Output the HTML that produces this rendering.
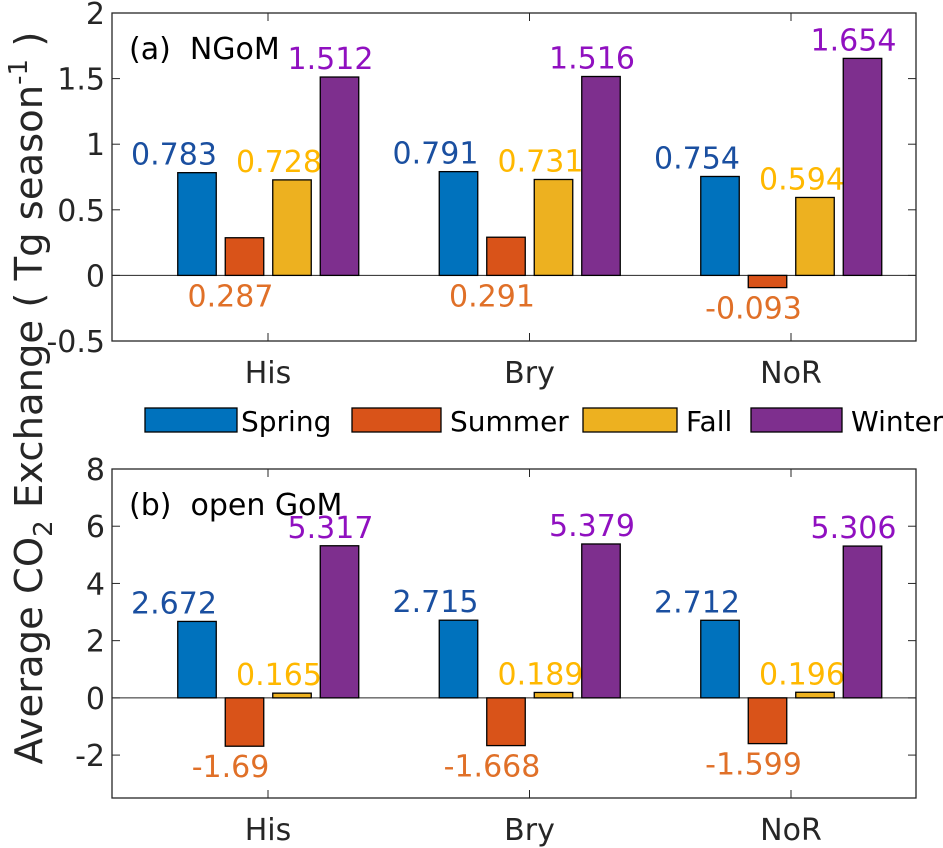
<!DOCTYPE html>
<html><head><meta charset="utf-8"><style>
html,body{margin:0;padding:0;background:#fff;}
svg{display:block;font-family:"DejaVu Sans","Liberation Sans",sans-serif;}
</style></head><body>
<svg id="chart" width="943" height="848" viewBox="0 0 943 848" xmlns="http://www.w3.org/2000/svg">
<text transform="translate(42,398) rotate(-90)" text-anchor="middle" font-size="38.5" fill="#262626">Average CO<tspan font-size="26" dy="10">2</tspan><tspan dy="-10"> Exchange ( Tg season</tspan><tspan font-size="26" dy="-15">-1</tspan><tspan dy="15"> )</tspan></text>
<g id="legend"></g>
</svg>
<script>
const categories = ["His", "Bry", "NoR"];
const seasons = ["Spring", "Summer", "Fall", "Winter"];
const ngomSpring = [0.783, 0.791, 0.754];
const ngomSummer = [0.287, 0.291, -0.093];
const ngomFall = [0.728, 0.731, 0.594];
const ngomWinter = [1.512, 1.516, 1.654];
const openSpring = [2.672, 2.715, 2.712];
const openSummer = [-1.69, -1.668, -1.599];
const openFall = [0.165, 0.189, 0.196];
const openWinter = [5.317, 5.379, 5.306];
const ngomTicks = [-0.5, 0, 0.5, 1, 1.5, 2];
const openTicks = [-2, 0, 2, 4, 6, 8];

const NS = "http://www.w3.org/2000/svg";
const svg = document.getElementById("chart");
const fills = ["#0072BD", "#D95319", "#EDB120", "#7E2F8E"];
const labelColors = ["#1a4fa0", "#e07028", "#ffb800", "#9010c0"];
const labelShift = [-23, -14, -13, -9];
const barOffsets = [-71, -23.5, 24, 71.5];
const barW = 38.5;
const FS = 30;
function xGroup(i){ return 268 + i * 261.5; }
function fmt(v){ return String(v); }
function mk(tag, attrs, parent){
  const e = document.createElementNS(NS, tag);
  for (const k in attrs) e.setAttribute(k, attrs[k]);
  (parent || svg).appendChild(e);
  return e;
}
function panel(cfg){
  const y = v => cfg.y0 + (v - cfg.ymin) / (cfg.ymax - cfg.ymin) * (cfg.y1 - cfg.y0);
  const L = 112, R = 916;
  const g = mk("g", {});
  
  
  const zl = mk("line", {x1:L, x2:R, y1:y(0), y2:y(0), stroke:"#262626", "stroke-width":1}, g);
  
  
  cfg.series.forEach((vals, s) => {
    vals.forEach((v, i) => {
      const cx = xGroup(i) + barOffsets[s];
      const top = y(Math.max(v, 0)), bot = y(Math.min(v, 0));
      const r = mk("rect", {x:cx - barW/2, y:top, width:barW, height:Math.max(bot - top, 0.5), fill:fills[s], stroke:"#000", "stroke-width":1.3}, g);
      
      
      let ty;
      if (s === 1) ty = y(Math.min(v, 0)) + 31;
      else ty = v >= 0 ? y(v) - 8 : y(v) + 31;
      const t = mk("text", {x:cx + labelShift[s], y:ty, "text-anchor":"middle", "font-size":FS, fill:labelColors[s]}, g);
      t.textContent = fmt(v);
      
      
    });
  });
  const fr = mk("rect", {x:L, y:cfg.y0, width:R - L, height:cfg.y1 - cfg.y0, fill:"none", stroke:"#262626", "stroke-width":1.3}, g);
  
  
  cfg.ticks.forEach(tv => {
    const yy = y(tv);
    mk("line", {x1:L, x2:L + 8, y1:yy, y2:yy, stroke:"#262626", "stroke-width":1}, g);
    mk("line", {x1:R, x2:R - 8, y1:yy, y2:yy, stroke:"#262626", "stroke-width":1}, g);
    const t = mk("text", {x:L - 7, y:yy + 11, "text-anchor":"end", "font-size":FS, fill:"#262626"}, g);
    t.textContent = String(tv);
    
    
  });
  categories.forEach((c, i) => {
    const xx = xGroup(i);
    mk("line", {x1:xx, x2:xx, y1:cfg.y1, y2:cfg.y1 - 8, stroke:"#262626", "stroke-width":1}, g);
    mk("line", {x1:xx, x2:xx, y1:cfg.y0, y2:cfg.y0 + 8, stroke:"#262626", "stroke-width":1}, g);
    const t = mk("text", {x:xx, y:cfg.y1 + 42, "text-anchor":"middle", "font-size":FS, fill:"#262626"}, g);
    t.textContent = c;
    
    
  });
  const ti = mk("text", {x:129, y:cfg.y0 + 46, "font-size":FS, fill:"#000"}, g);
  ti.textContent = cfg.title;
  
  
}
panel({name:"panel-a-ngom", y0:13, y1:341, ymin:2, ymax:-0.5, ticks:ngomTicks, title:"(a)\u00a0\u00a0NGoM",
  series:[ngomSpring, ngomSummer, ngomFall, ngomWinter]});
panel({name:"panel-b-open-gom", y0:469, y1:798, ymin:8, ymax:-3.5, ticks:openTicks, title:"(b)\u00a0\u00a0open GoM",
  series:[openSpring, openSummer, openFall, openWinter]});
const lg = document.getElementById("legend");
const legBoxes = [[145,237,241],[352,441,450],[583,677,686],[751,842,851]];
seasons.forEach((s, i) => {
  const b = legBoxes[i];
  const r = mk("rect", {x:b[0], y:408, width:b[1]-b[0], height:24, fill:fills[i], stroke:"#000", "stroke-width":1.3}, lg);
  
  
  const t = mk("text", {x:b[2], y:431, "font-size":28, fill:"#000"}, lg);
  t.textContent = s;
  
  
});
</script>
</body></html>
